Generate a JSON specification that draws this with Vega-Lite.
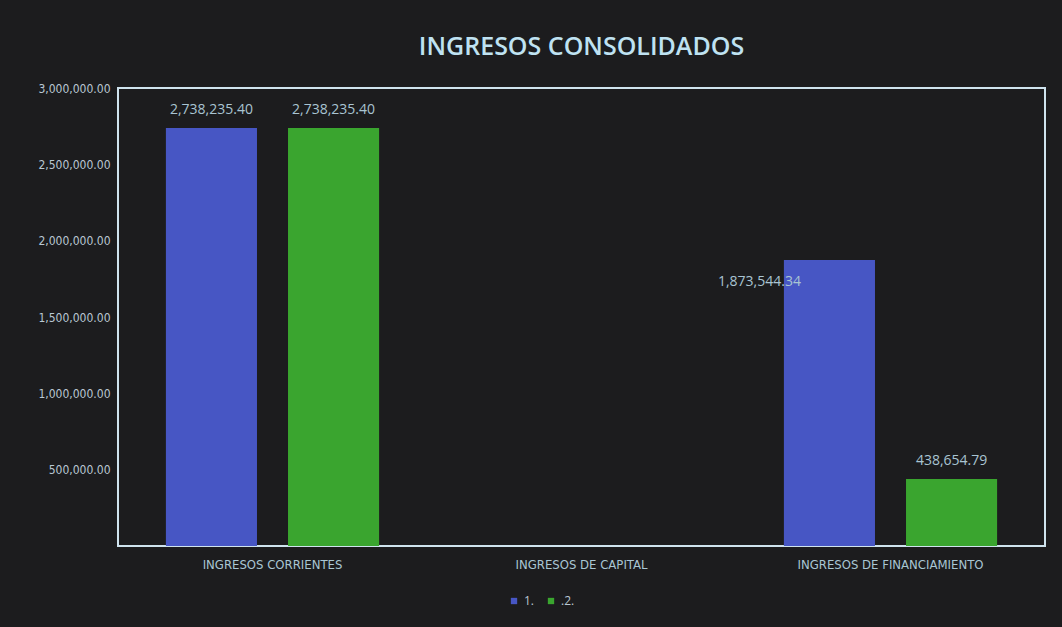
{
  "$schema": "https://vega.github.io/schema/vega-lite/v6.json",
  "width": 927,
  "height": 458,
  "autosize": "none",
  "padding": {"left": 118, "top": 88, "right": 17, "bottom": 81},
  "background": "#1c1c1e",
  "config": {
    "font": "Open Sans",
    "view": {"stroke": "#cfe3ee", "strokeWidth": 2, "fill": "#1c1c1e"}
  },
  "title": {
    "text": "INGRESOS CONSOLIDADOS",
    "anchor": "middle",
    "fontSize": 25,
    "fontWeight": 600,
    "color": "#bfe2f2",
    "font": "Open Sans",
    "offset": 22
  },
  "data": {
    "values": [
      {"categoria": "INGRESOS CORRIENTES", "serie": "1.", "valor": 2738235.40},
      {"categoria": "INGRESOS CORRIENTES", "serie": "2.", "valor": 2738235.40},
      {"categoria": "INGRESOS DE FINANCIAMIENTO", "serie": "1.", "valor": 1873544.34},
      {"categoria": "INGRESOS DE FINANCIAMIENTO", "serie": "2.", "valor": 438654.79}
    ]
  },
  "encoding": {
    "x": {
      "field": "categoria",
      "type": "nominal",
      "sort": null,
      "scale": {"domain": ["INGRESOS CORRIENTES", "INGRESOS DE CAPITAL", "INGRESOS DE FINANCIAMIENTO"], "paddingInner": 0.31, "paddingOuter": 0.155},
      "axis": {
        "title": null,
        "labelAngle": 0,
        "domain": false,
        "ticks": false,
        "labelLimit": 400,
        "labelColor": "#a9c6d4",
        "labelFontSize": 13,
        "labelFont": "DejaVu Sans Condensed, Open Sans",
        "labelPadding": 12
      }
    },
    "xOffset": {
      "field": "serie",
      "type": "nominal",
      "scale": {"paddingInner": 0.254, "paddingOuter": 0}
    },
    "y": {
      "field": "valor",
      "type": "quantitative",
      "scale": {"domain": [0, 3000000], "nice": false},
      "axis": {
        "title": null,
        "values": [500000, 1000000, 1500000, 2000000, 2500000, 3000000],
        "format": ",.2f",
        "grid": false,
        "domain": false,
        "ticks": false,
        "labelColor": "#b9c7d2",
        "labelFontSize": 12,
        "labelFont": "DejaVu Sans Condensed, Open Sans",
        "labelPadding": 8
      }
    }
  },
  "layer": [
    {
      "mark": {"type": "bar"},
      "encoding": {
        "color": {
          "field": "serie",
          "type": "nominal",
          "scale": {"domain": ["1.", "2."], "range": ["#4756c4", "#3aa52f"]},
          "legend": {
            "orient": "none",
            "legendX": 390,
            "legendY": 507,
            "direction": "horizontal",
            "title": null,
            "symbolType": "square",
            "symbolSize": 40,
            "labelColor": "#b9c7d2",
            "labelFontSize": 12,
            "columnPadding": 10,
            "labelExpr": "datum.label == '2.' ? '.2.' : datum.label"
          }
        }
      }
    },
    {
      "transform": [{"filter": "datum.valor != 1873544.34"}],
      "mark": {"type": "text", "dy": -18, "color": "#a9c4d2", "fontSize": 14, "font": "Open Sans"},
      "encoding": {
        "text": {"field": "valor", "type": "quantitative", "format": ",.2f"}
      }
    },
    {
      "transform": [{"filter": "datum.valor == 1873544.34"}],
      "mark": {"type": "text", "dx": -70, "dy": 22, "color": "#a9c4d2", "fontSize": 14, "font": "Open Sans"},
      "encoding": {
        "text": {"field": "valor", "type": "quantitative", "format": ",.2f"}
      }
    }
  ]
}
